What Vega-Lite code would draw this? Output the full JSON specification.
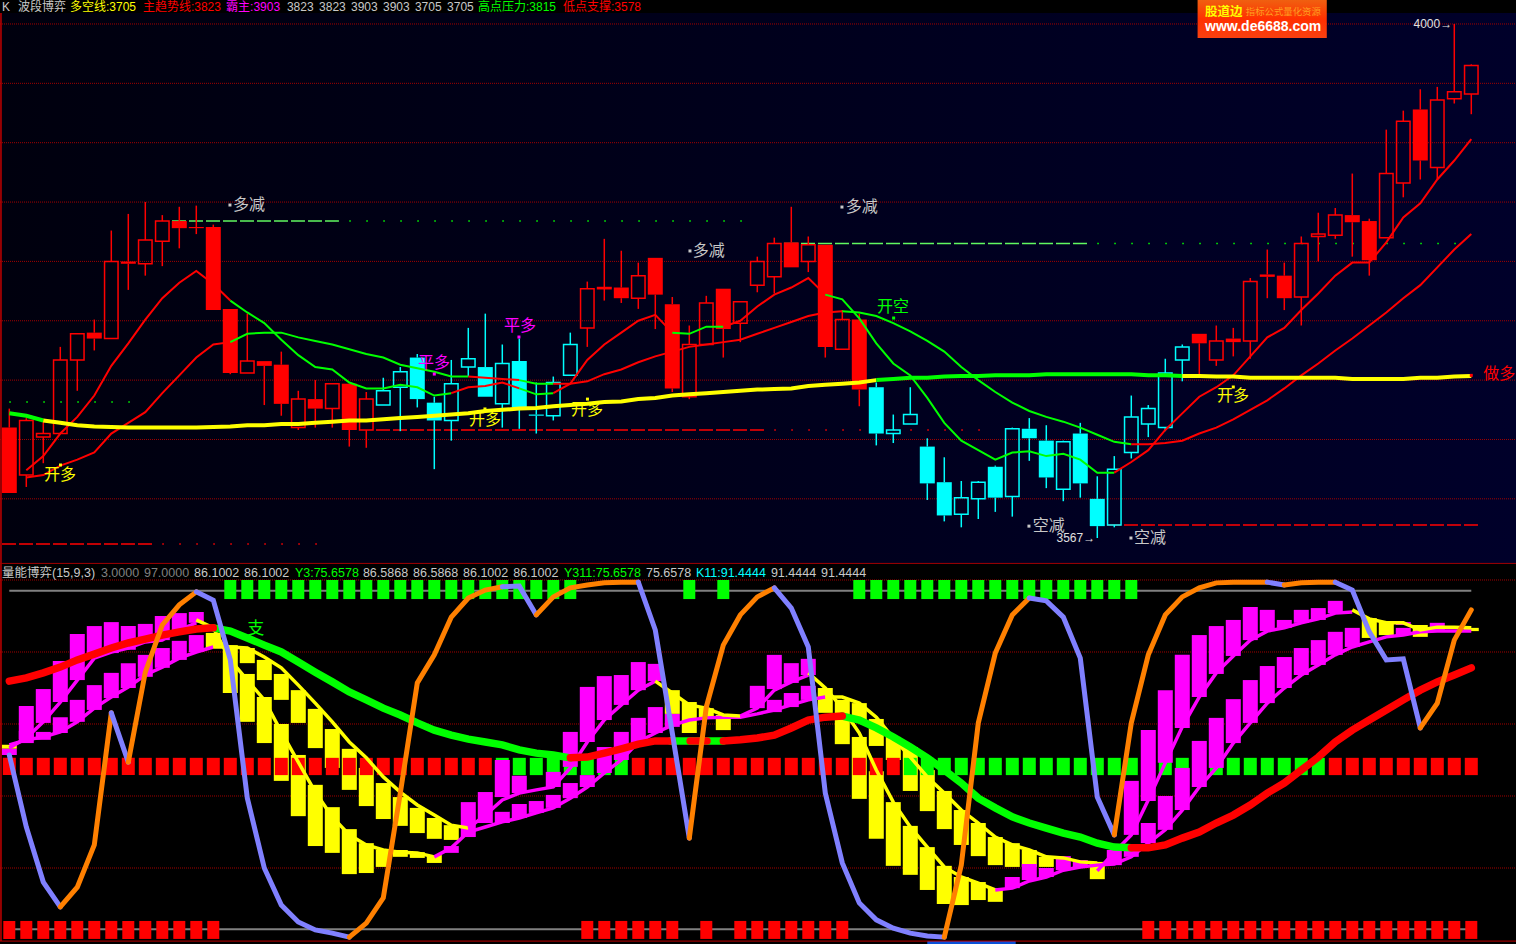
{"$schema":"https://vega.github.io/schema/vega-lite/v6.json","background":"#000000","padding":0,"spacing":0,"bounds":"flush","config":{"view":{"stroke":null,"clip":true},"mark":{"clip":true},"axis":{"disable":true},"legend":{"disable":true},"concat":{"spacing":0},"scale":{"continuousPadding":0}},
"datasets":{
"candles":[{"i":0,"h":3676,"t":3660,"b":3605,"l":3605,"c":"r","f":1},{"i":1,"h":3668,"t":3666,"b":3620,"l":3610,"c":"r","f":0},{"i":2,"h":3666,"t":3655,"b":3652,"l":3630,"c":"r","f":0},{"i":3,"h":3728,"t":3717,"b":3655,"l":3655,"c":"r","f":0},{"i":4,"h":3739,"t":3739,"b":3717,"l":3691,"c":"r","f":0},{"i":5,"h":3751,"t":3740,"b":3735,"l":3725,"c":"r","f":1},{"i":6,"h":3826,"t":3800,"b":3735,"l":3735,"c":"r","f":0},{"i":7,"h":3840,"t":3800,"b":3798,"l":3776,"c":"r","f":1},{"i":8,"h":3850,"t":3818,"b":3798,"l":3788,"c":"r","f":0},{"i":9,"h":3839,"t":3834,"b":3817,"l":3796,"c":"r","f":0},{"i":10,"h":3846,"t":3834,"b":3828,"l":3811,"c":"r","f":1},{"i":11,"h":3847,"t":3829,"b":3828,"l":3823,"c":"r","f":1},{"i":12,"h":3831,"t":3829,"b":3759,"l":3759,"c":"r","f":1},{"i":13,"h":3760,"t":3760,"b":3706,"l":3705,"c":"r","f":1},{"i":14,"h":3756,"t":3716,"b":3706,"l":3706,"c":"r","f":0},{"i":15,"h":3716,"t":3716,"b":3712,"l":3679,"c":"r","f":1},{"i":16,"h":3724,"t":3713,"b":3680,"l":3670,"c":"r","f":1},{"i":17,"h":3691,"t":3684,"b":3660,"l":3658,"c":"r","f":0},{"i":18,"h":3700,"t":3684,"b":3676,"l":3660,"c":"r","f":1},{"i":19,"h":3697,"t":3697,"b":3676,"l":3660,"c":"r","f":0},{"i":20,"h":3697,"t":3697,"b":3658,"l":3644,"c":"r","f":1},{"i":21,"h":3690,"t":3684,"b":3658,"l":3643,"c":"r","f":0},{"i":22,"h":3702,"t":3691,"b":3679,"l":3679,"c":"c","f":0},{"i":23,"h":3711,"t":3707,"b":3694,"l":3657,"c":"c","f":0},{"i":24,"h":3722,"t":3719,"b":3684,"l":3677,"c":"c","f":1},{"i":25,"h":3686,"t":3681,"b":3666,"l":3625,"c":"c","f":1},{"i":26,"h":3717,"t":3697,"b":3666,"l":3649,"c":"c","f":0},{"i":27,"h":3744,"t":3718,"b":3711,"l":3703,"c":"c","f":0},{"i":28,"h":3756,"t":3711,"b":3686,"l":3686,"c":"c","f":1},{"i":29,"h":3730,"t":3714,"b":3680,"l":3660,"c":"c","f":0},{"i":30,"h":3735,"t":3716,"b":3677,"l":3659,"c":"c","f":1},{"i":31,"h":3698,"t":3671,"b":3670,"l":3655,"c":"c","f":1},{"i":32,"h":3703,"t":3698,"b":3670,"l":3666,"c":"c","f":0},{"i":33,"h":3740,"t":3730,"b":3704,"l":3704,"c":"c","f":0},{"i":34,"h":3783,"t":3777,"b":3744,"l":3728,"c":"r","f":0},{"i":35,"h":3819,"t":3778,"b":3777,"l":3767,"c":"r","f":0},{"i":36,"h":3809,"t":3778,"b":3769,"l":3765,"c":"r","f":1},{"i":37,"h":3799,"t":3788,"b":3769,"l":3760,"c":"r","f":0},{"i":38,"h":3803,"t":3803,"b":3772,"l":3743,"c":"r","f":1},{"i":39,"h":3770,"t":3764,"b":3693,"l":3690,"c":"r","f":1},{"i":40,"h":3746,"t":3730,"b":3686,"l":3684,"c":"r","f":0},{"i":41,"h":3771,"t":3765,"b":3730,"l":3730,"c":"r","f":0},{"i":42,"h":3777,"t":3777,"b":3743,"l":3719,"c":"r","f":1},{"i":43,"h":3766,"t":3766,"b":3748,"l":3732,"c":"r","f":0},{"i":44,"h":3804,"t":3800,"b":3780,"l":3774,"c":"r","f":0},{"i":45,"h":3820,"t":3815,"b":3787,"l":3773,"c":"r","f":0},{"i":46,"h":3846,"t":3816,"b":3795,"l":3795,"c":"r","f":1},{"i":47,"h":3821,"t":3814,"b":3800,"l":3791,"c":"r","f":0},{"i":48,"h":3814,"t":3814,"b":3728,"l":3719,"c":"r","f":1},{"i":49,"h":3759,"t":3751,"b":3726,"l":3726,"c":"r","f":0},{"i":50,"h":3756,"t":3751,"b":3692,"l":3678,"c":"r","f":1},{"i":51,"h":3698,"t":3694,"b":3655,"l":3645,"c":"c","f":1},{"i":52,"h":3671,"t":3658,"b":3655,"l":3647,"c":"c","f":0},{"i":53,"h":3694,"t":3671,"b":3663,"l":3663,"c":"c","f":0},{"i":54,"h":3651,"t":3644,"b":3613,"l":3599,"c":"c","f":1},{"i":55,"h":3635,"t":3614,"b":3586,"l":3581,"c":"c","f":1},{"i":56,"h":3615,"t":3601,"b":3587,"l":3576,"c":"c","f":0},{"i":57,"h":3615,"t":3614,"b":3600,"l":3583,"c":"c","f":0},{"i":58,"h":3628,"t":3627,"b":3601,"l":3589,"c":"c","f":1},{"i":59,"h":3660,"t":3659,"b":3602,"l":3585,"c":"c","f":0},{"i":60,"h":3668,"t":3659,"b":3651,"l":3632,"c":"c","f":1},{"i":61,"h":3662,"t":3649,"b":3618,"l":3609,"c":"c","f":1},{"i":62,"h":3649,"t":3648,"b":3608,"l":3598,"c":"c","f":0},{"i":63,"h":3664,"t":3655,"b":3613,"l":3601,"c":"c","f":1},{"i":64,"h":3619,"t":3600,"b":3577,"l":3567,"c":"c","f":1},{"i":65,"h":3636,"t":3625,"b":3578,"l":3576,"c":"c","f":0},{"i":66,"h":3687,"t":3669,"b":3639,"l":3634,"c":"c","f":0},{"i":67,"h":3679,"t":3676,"b":3663,"l":3652,"c":"c","f":0},{"i":68,"h":3718,"t":3706,"b":3660,"l":3657,"c":"c","f":0},{"i":69,"h":3730,"t":3728,"b":3717,"l":3699,"c":"c","f":0},{"i":70,"h":3739,"t":3739,"b":3731,"l":3703,"c":"r","f":1},{"i":71,"h":3746,"t":3733,"b":3717,"l":3712,"c":"r","f":0},{"i":72,"h":3744,"t":3735,"b":3732,"l":3720,"c":"r","f":1},{"i":73,"h":3786,"t":3783,"b":3733,"l":3718,"c":"r","f":0},{"i":74,"h":3810,"t":3789,"b":3787,"l":3769,"c":"r","f":1},{"i":75,"h":3799,"t":3788,"b":3769,"l":3759,"c":"r","f":1},{"i":76,"h":3821,"t":3815,"b":3770,"l":3746,"c":"r","f":0},{"i":77,"h":3841,"t":3823,"b":3821,"l":3800,"c":"r","f":0},{"i":78,"h":3845,"t":3839,"b":3822,"l":3819,"c":"r","f":0},{"i":79,"h":3874,"t":3839,"b":3833,"l":3804,"c":"r","f":1},{"i":80,"h":3836,"t":3834,"b":3801,"l":3788,"c":"r","f":1},{"i":81,"h":3911,"t":3874,"b":3820,"l":3820,"c":"r","f":0},{"i":82,"h":3927,"t":3918,"b":3866,"l":3854,"c":"r","f":0},{"i":83,"h":3945,"t":3928,"b":3885,"l":3869,"c":"r","f":1},{"i":84,"h":3947,"t":3936,"b":3879,"l":3869,"c":"r","f":0},{"i":85,"h":4000,"t":3943,"b":3937,"l":3933,"c":"r","f":0},{"i":86,"h":3966,"t":3965,"b":3941,"l":3924,"c":"r","f":0}],
"thin":[{"i":1,"p":3624,"s":1,"c":"r"},{"i":2,"p":3636,"s":1,"c":"r"},{"i":3,"p":3655,"s":1,"c":"r"},{"i":4,"p":3669,"s":1,"c":"r"},{"i":5,"p":3687,"s":1,"c":"r"},{"i":6,"p":3712,"s":1,"c":"r"},{"i":7,"p":3731,"s":1,"c":"r"},{"i":8,"p":3751,"s":1,"c":"r"},{"i":9,"p":3769,"s":1,"c":"r"},{"i":10,"p":3782,"s":1,"c":"r"},{"i":11,"p":3792,"s":1,"c":"r"},{"i":12,"p":3781,"s":1,"c":"r"},{"i":13,"p":3767,"s":1,"c":"r"},
{"i":13,"p":3767,"s":2,"c":"g"},{"i":14,"p":3757,"s":2,"c":"g"},{"i":15,"p":3748,"s":2,"c":"g"},{"i":16,"p":3734,"s":2,"c":"g"},{"i":17,"p":3721,"s":2,"c":"g"},{"i":18,"p":3711,"s":2,"c":"g"},{"i":19,"p":3709,"s":2,"c":"g"},{"i":20,"p":3698,"s":2,"c":"g"},{"i":21,"p":3693,"s":2,"c":"g"},{"i":22,"p":3693,"s":2,"c":"g"},{"i":23,"p":3696,"s":2,"c":"g"},{"i":24,"p":3694,"s":2,"c":"g"},{"i":25,"p":3687,"s":2,"c":"g"},{"i":26,"p":3689,"s":2,"c":"g"},
{"i":26,"p":3689,"s":3,"c":"r"},{"i":27,"p":3694,"s":3,"c":"r"},{"i":28,"p":3695,"s":3,"c":"r"},{"i":29,"p":3698,"s":3,"c":"r"},{"i":30,"p":3693,"s":3,"c":"r"},
{"i":30,"p":3693,"s":4,"c":"g"},{"i":31,"p":3688,"s":4,"c":"g"},{"i":32,"p":3689,"s":4,"c":"g"},
{"i":32,"p":3689,"s":5,"c":"r"},{"i":33,"p":3697,"s":5,"c":"r"},{"i":34,"p":3717,"s":5,"c":"r"},{"i":35,"p":3730,"s":5,"c":"r"},{"i":36,"p":3740,"s":5,"c":"r"},{"i":37,"p":3750,"s":5,"c":"r"},{"i":38,"p":3755,"s":5,"c":"r"},{"i":39,"p":3740,"s":5,"c":"r"},
{"i":39,"p":3740,"s":6,"c":"g"},{"i":40,"p":3739,"s":6,"c":"g"},{"i":41,"p":3745,"s":6,"c":"g"},{"i":42,"p":3745,"s":6,"c":"g"},
{"i":42,"p":3745,"s":7,"c":"r"},{"i":43,"p":3750,"s":7,"c":"r"},{"i":44,"p":3762,"s":7,"c":"r"},{"i":45,"p":3772,"s":7,"c":"r"},{"i":46,"p":3778,"s":7,"c":"r"},{"i":47,"p":3786,"s":7,"c":"r"},{"i":48,"p":3772,"s":7,"c":"r"},
{"i":48,"p":3772,"s":8,"c":"g"},{"i":49,"p":3768,"s":8,"c":"g"},{"i":50,"p":3752,"s":8,"c":"g"},{"i":51,"p":3731,"s":8,"c":"g"},{"i":52,"p":3714,"s":8,"c":"g"},{"i":53,"p":3704,"s":8,"c":"g"},{"i":54,"p":3685,"s":8,"c":"g"},{"i":55,"p":3664,"s":8,"c":"g"},{"i":56,"p":3649,"s":8,"c":"g"},{"i":57,"p":3641,"s":8,"c":"g"},{"i":58,"p":3633,"s":8,"c":"g"},{"i":59,"p":3639,"s":8,"c":"g"},{"i":60,"p":3640,"s":8,"c":"g"},{"i":61,"p":3636,"s":8,"c":"g"},{"i":62,"p":3638,"s":8,"c":"g"},{"i":63,"p":3633,"s":8,"c":"g"},{"i":64,"p":3622,"s":8,"c":"g"},{"i":65,"p":3622,"s":8,"c":"g"},
{"i":65,"p":3622,"s":9,"c":"r"},{"i":66,"p":3631,"s":9,"c":"r"},{"i":67,"p":3641,"s":9,"c":"r"},{"i":68,"p":3658,"s":9,"c":"r"},{"i":69,"p":3672,"s":9,"c":"r"},{"i":70,"p":3686,"s":9,"c":"r"},{"i":71,"p":3694,"s":9,"c":"r"},{"i":72,"p":3704,"s":9,"c":"r"},{"i":73,"p":3720,"s":9,"c":"r"},{"i":74,"p":3736,"s":9,"c":"r"},{"i":75,"p":3744,"s":9,"c":"r"},{"i":76,"p":3759,"s":9,"c":"r"},{"i":77,"p":3773,"s":9,"c":"r"},{"i":78,"p":3788,"s":9,"c":"r"},{"i":79,"p":3799,"s":9,"c":"r"},{"i":80,"p":3799,"s":9,"c":"r"},{"i":81,"p":3816,"s":9,"c":"r"},{"i":82,"p":3837,"s":9,"c":"r"},{"i":83,"p":3849,"s":9,"c":"r"},{"i":84,"p":3869,"s":9,"c":"r"},{"i":85,"p":3885,"s":9,"c":"r"},{"i":86,"p":3903,"s":9,"c":"r"},
{"i":1,"p":3618,"s":11,"c":"r"},{"i":2,"p":3620,"s":11,"c":"r"},{"i":3,"p":3628,"s":11,"c":"r"},{"i":4,"p":3633,"s":11,"c":"r"},{"i":5,"p":3639,"s":11,"c":"r"},{"i":6,"p":3655,"s":11,"c":"r"},{"i":7,"p":3664,"s":11,"c":"r"},{"i":8,"p":3673,"s":11,"c":"r"},{"i":9,"p":3689,"s":11,"c":"r"},{"i":10,"p":3704,"s":11,"c":"r"},{"i":11,"p":3719,"s":11,"c":"r"},{"i":12,"p":3730,"s":11,"c":"r"},{"i":13,"p":3732,"s":11,"c":"r"},
{"i":13,"p":3732,"s":12,"c":"g"},{"i":14,"p":3739,"s":12,"c":"g"},{"i":15,"p":3740,"s":12,"c":"g"},{"i":16,"p":3740,"s":12,"c":"g"},{"i":17,"p":3736,"s":12,"c":"g"},{"i":18,"p":3733,"s":12,"c":"g"},{"i":19,"p":3730,"s":12,"c":"g"},{"i":20,"p":3726,"s":12,"c":"g"},{"i":21,"p":3722,"s":12,"c":"g"},{"i":22,"p":3719,"s":12,"c":"g"},{"i":23,"p":3713,"s":12,"c":"g"},{"i":24,"p":3710,"s":12,"c":"g"},{"i":25,"p":3707,"s":12,"c":"g"},{"i":26,"p":3703,"s":12,"c":"g"},{"i":27,"p":3703,"s":12,"c":"g"},
{"i":27,"p":3703,"s":13,"c":"r"},{"i":28,"p":3702,"s":13,"c":"r"},{"i":29,"p":3701,"s":13,"c":"r"},{"i":30,"p":3700,"s":13,"c":"r"},
{"i":30,"p":3700,"s":14,"c":"g"},{"i":31,"p":3697,"s":14,"c":"g"},{"i":32,"p":3697,"s":14,"c":"g"},
{"i":32,"p":3697,"s":15,"c":"r"},{"i":33,"p":3697,"s":15,"c":"r"},{"i":34,"p":3699,"s":15,"c":"r"},{"i":35,"p":3705,"s":15,"c":"r"},{"i":36,"p":3709,"s":15,"c":"r"},{"i":37,"p":3715,"s":15,"c":"r"},{"i":38,"p":3720,"s":15,"c":"r"},{"i":39,"p":3724,"s":15,"c":"r"},{"i":40,"p":3728,"s":15,"c":"r"},{"i":41,"p":3730,"s":15,"c":"r"},{"i":42,"p":3732,"s":15,"c":"r"},{"i":43,"p":3734,"s":15,"c":"r"},{"i":44,"p":3739,"s":15,"c":"r"},{"i":45,"p":3744,"s":15,"c":"r"},{"i":46,"p":3749,"s":15,"c":"r"},{"i":47,"p":3754,"s":15,"c":"r"},{"i":48,"p":3757,"s":15,"c":"r"},{"i":49,"p":3758,"s":15,"c":"r"},
{"i":49,"p":3758,"s":16,"c":"g"},{"i":50,"p":3757,"s":16,"c":"g"},{"i":51,"p":3754,"s":16,"c":"g"},{"i":52,"p":3748,"s":16,"c":"g"},{"i":53,"p":3741,"s":16,"c":"g"},{"i":54,"p":3733,"s":16,"c":"g"},{"i":55,"p":3724,"s":16,"c":"g"},{"i":56,"p":3711,"s":16,"c":"g"},{"i":57,"p":3700,"s":16,"c":"g"},{"i":58,"p":3690,"s":16,"c":"g"},{"i":59,"p":3681,"s":16,"c":"g"},{"i":60,"p":3674,"s":16,"c":"g"},{"i":61,"p":3669,"s":16,"c":"g"},{"i":62,"p":3665,"s":16,"c":"g"},{"i":63,"p":3660,"s":16,"c":"g"},{"i":64,"p":3654,"s":16,"c":"g"},{"i":65,"p":3648,"s":16,"c":"g"},{"i":66,"p":3646,"s":16,"c":"g"},
{"i":66,"p":3646,"s":17,"c":"r"},{"i":67,"p":3646,"s":17,"c":"r"},{"i":68,"p":3647,"s":17,"c":"r"},{"i":69,"p":3649,"s":17,"c":"r"},{"i":70,"p":3655,"s":17,"c":"r"},{"i":71,"p":3660,"s":17,"c":"r"},{"i":72,"p":3667,"s":17,"c":"r"},{"i":73,"p":3675,"s":17,"c":"r"},{"i":74,"p":3683,"s":17,"c":"r"},{"i":75,"p":3693,"s":17,"c":"r"},{"i":76,"p":3704,"s":17,"c":"r"},{"i":77,"p":3714,"s":17,"c":"r"},{"i":78,"p":3725,"s":17,"c":"r"},{"i":79,"p":3735,"s":17,"c":"r"},{"i":80,"p":3746,"s":17,"c":"r"},{"i":81,"p":3757,"s":17,"c":"r"},{"i":82,"p":3769,"s":17,"c":"r"},{"i":83,"p":3780,"s":17,"c":"r"},{"i":84,"p":3795,"s":17,"c":"r"},{"i":85,"p":3810,"s":17,"c":"r"},{"i":86,"p":3823,"s":17,"c":"r"}],
"trend":[{"i":0,"p":3672,"s":1,"c":"g"},{"i":1,"p":3670,"s":1,"c":"g"},{"i":2,"p":3666,"s":1,"c":"g"},
{"i":2,"p":3666,"s":2,"c":"y"},{"i":3,"p":3664,"s":2,"c":"y"},{"i":4,"p":3662,"s":2,"c":"y"},{"i":5,"p":3661,"s":2,"c":"y"},{"i":6,"p":3660.5,"s":2,"c":"y"},{"i":7,"p":3660,"s":2,"c":"y"},{"i":8,"p":3660,"s":2,"c":"y"},{"i":9,"p":3660,"s":2,"c":"y"},{"i":10,"p":3660,"s":2,"c":"y"},{"i":11,"p":3660,"s":2,"c":"y"},{"i":12,"p":3660.5,"s":2,"c":"y"},{"i":13,"p":3661,"s":2,"c":"y"},{"i":14,"p":3662,"s":2,"c":"y"},{"i":15,"p":3662,"s":2,"c":"y"},{"i":16,"p":3663,"s":2,"c":"y"},{"i":17,"p":3663,"s":2,"c":"y"},{"i":18,"p":3664,"s":2,"c":"y"},{"i":19,"p":3665,"s":2,"c":"y"},{"i":20,"p":3666,"s":2,"c":"y"},{"i":21,"p":3666,"s":2,"c":"y"},{"i":22,"p":3667,"s":2,"c":"y"},{"i":23,"p":3668,"s":2,"c":"y"},{"i":24,"p":3669,"s":2,"c":"y"},{"i":25,"p":3670,"s":2,"c":"y"},{"i":26,"p":3671,"s":2,"c":"y"},{"i":27,"p":3672,"s":2,"c":"y"},{"i":28,"p":3674,"s":2,"c":"y"},{"i":29,"p":3675,"s":2,"c":"y"},{"i":30,"p":3676,"s":2,"c":"y"},{"i":31,"p":3676.5,"s":2,"c":"y"},{"i":32,"p":3678,"s":2,"c":"y"},{"i":33,"p":3679,"s":2,"c":"y"},{"i":34,"p":3680,"s":2,"c":"y"},{"i":35,"p":3681.6,"s":2,"c":"y"},{"i":36,"p":3682,"s":2,"c":"y"},{"i":37,"p":3684,"s":2,"c":"y"},{"i":38,"p":3685,"s":2,"c":"y"},{"i":39,"p":3687,"s":2,"c":"y"},{"i":40,"p":3688,"s":2,"c":"y"},{"i":41,"p":3689,"s":2,"c":"y"},{"i":42,"p":3690,"s":2,"c":"y"},{"i":43,"p":3691,"s":2,"c":"y"},{"i":44,"p":3692,"s":2,"c":"y"},{"i":45,"p":3692.5,"s":2,"c":"y"},{"i":46,"p":3693,"s":2,"c":"y"},{"i":47,"p":3695,"s":2,"c":"y"},{"i":48,"p":3696,"s":2,"c":"y"},{"i":49,"p":3697,"s":2,"c":"y"},{"i":50,"p":3698,"s":2,"c":"y"},{"i":51,"p":3700,"s":2,"c":"y"},
{"i":51,"p":3700,"s":3,"c":"g"},{"i":52,"p":3701,"s":3,"c":"g"},{"i":53,"p":3702,"s":3,"c":"g"},{"i":54,"p":3702,"s":3,"c":"g"},{"i":55,"p":3703,"s":3,"c":"g"},{"i":56,"p":3703.5,"s":3,"c":"g"},{"i":57,"p":3703.5,"s":3,"c":"g"},{"i":58,"p":3704,"s":3,"c":"g"},{"i":59,"p":3704,"s":3,"c":"g"},{"i":60,"p":3704,"s":3,"c":"g"},{"i":61,"p":3705,"s":3,"c":"g"},{"i":62,"p":3705,"s":3,"c":"g"},{"i":63,"p":3705,"s":3,"c":"g"},{"i":64,"p":3705,"s":3,"c":"g"},{"i":65,"p":3705,"s":3,"c":"g"},{"i":66,"p":3705,"s":3,"c":"g"},{"i":67,"p":3704,"s":3,"c":"g"},{"i":68,"p":3704,"s":3,"c":"g"},{"i":69,"p":3703.5,"s":3,"c":"g"},
{"i":69,"p":3703.5,"s":4,"c":"y"},{"i":70,"p":3703.5,"s":4,"c":"y"},{"i":71,"p":3703,"s":4,"c":"y"},{"i":72,"p":3703,"s":4,"c":"y"},{"i":73,"p":3702,"s":4,"c":"y"},{"i":74,"p":3702,"s":4,"c":"y"},{"i":75,"p":3702,"s":4,"c":"y"},{"i":76,"p":3702,"s":4,"c":"y"},{"i":77,"p":3702,"s":4,"c":"y"},{"i":78,"p":3702,"s":4,"c":"y"},{"i":79,"p":3701,"s":4,"c":"y"},{"i":80,"p":3701,"s":4,"c":"y"},{"i":81,"p":3701,"s":4,"c":"y"},{"i":82,"p":3701,"s":4,"c":"y"},{"i":83,"p":3702,"s":4,"c":"y"},{"i":84,"p":3702,"s":4,"c":"y"},{"i":85,"p":3703,"s":4,"c":"y"},{"i":86,"p":3703.5,"s":4,"c":"y"}],
"dash":[{"i":9.57,"p":3834,"s":1,"c":"l"},{"i":19.39,"p":3834,"s":1,"c":"l"},{"i":45.57,"p":3815,"s":2,"c":"l"},{"i":63.45,"p":3815,"s":2,"c":"l"},{"i":-0.43,"p":3562,"s":3,"c":"r"},{"i":8.45,"p":3562,"s":3,"c":"r"},{"i":21.57,"p":3658,"s":4,"c":"r"},{"i":44.45,"p":3658,"s":4,"c":"r"},{"i":64.57,"p":3578,"s":5,"c":"r"},{"i":86.45,"p":3578,"s":5,"c":"r"}],
"dotted":[{"i":20,"p":3834,"s":1,"c":"g"},{"i":44,"p":3834,"s":1,"c":"g"},{"i":64,"p":3815,"s":2,"c":"g"},{"i":86,"p":3815,"s":2,"c":"g"},{"i":0,"p":3681.6,"s":3,"c":"g"},{"i":8,"p":3681.6,"s":3,"c":"g"},{"i":9,"p":3562,"s":4,"c":"r"},{"i":19,"p":3562,"s":4,"c":"r"},{"i":45,"p":3658,"s":5,"c":"r"},{"i":58,"p":3658,"s":5,"c":"r"}],
"grid1":[{"i":-0.547,"i2":88.63,"p":4000},{"i":-0.547,"i2":88.63,"p":3950},{"i":-0.547,"i2":88.63,"p":3900},{"i":-0.547,"i2":88.63,"p":3850},{"i":-0.547,"i2":88.63,"p":3800},{"i":-0.547,"i2":88.63,"p":3750},{"i":-0.547,"i2":88.63,"p":3700},{"i":-0.547,"i2":88.63,"p":3650},{"i":-0.547,"i2":88.63,"p":3600}],
"grid2":[{"i":-0.547,"i2":88.63,"v":100},{"i":-0.547,"i2":88.63,"v":80},{"i":-0.547,"i2":88.63,"v":60},{"i":-0.547,"i2":88.63,"v":40},{"i":-0.547,"i2":88.63,"v":20}],
"notes":[{"i":13.16,"p":3847.5,"t":"多减","c":"w"},{"i":40.2,"p":3808.8,"t":"多减","c":"w"},{"i":49.2,"p":3845.8,"t":"多减","c":"w"},{"i":60.2,"p":3577,"t":"空减","c":"w"},{"i":66.16,"p":3567,"t":"空减","c":"w"},{"i":2.04,"p":3620,"t":"开多","c":"y"},{"i":27.04,"p":3666.4,"t":"开多","c":"y"},{"i":33.04,"p":3674.8,"t":"开多","c":"y"},{"i":71.04,"p":3686.6,"t":"开多","c":"y"},{"i":24.04,"p":3714.4,"t":"平多","c":"m"},{"i":29.1,"p":3745.6,"t":"平多","c":"m"},{"i":51.04,"p":3761.6,"t":"开空","c":"g"},{"i":86.7,"p":3705.1,"t":"做多","c":"r"}],
"dots":[{"i":12.98,"p":3847.5,"c":"w"},{"i":40.04,"p":3808.8,"c":"w"},{"i":48.98,"p":3845.8,"c":"w"},{"i":59.98,"p":3577,"c":"w"},{"i":65.98,"p":3567,"c":"w"},{"i":3.01,"p":3628.5,"c":"y"},{"i":27.98,"p":3675.7,"c":"y"},{"i":34.01,"p":3684,"c":"y"},{"i":72,"p":3694.2,"c":"y"},{"i":25,"p":3705.1,"c":"m"},{"i":29.98,"p":3736.3,"c":"m"},{"i":52.02,"p":3752.3,"c":"g"},{"i":86,"p":3704,"c":"r"}],
"marks":[{"i":82.6,"p":4000,"t":"4000→"},{"i":61.6,"p":3567,"t":"3567→"}],
"head1":[{"i":-0.43,"t":"K","c":"w","p":4014.7},{"i":0.51,"t":"波段博弈","c":"w","p":4014.7},{"i":3.57,"t":"多空线:3705","c":"y","p":4014.7},{"i":7.86,"t":"主趋势线:3823","c":"r","p":4014.7},{"i":12.75,"t":"霸主:3903","c":"m","p":4014.7},{"i":16.33,"t":"3823","c":"w","p":4014.7},{"i":18.22,"t":"3823","c":"w","p":4014.7},{"i":20.1,"t":"3903","c":"w","p":4014.7},{"i":21.98,"t":"3903","c":"w","p":4014.7},{"i":23.86,"t":"3705","c":"w","p":4014.7},{"i":25.75,"t":"3705","c":"w","p":4014.7},{"i":27.57,"t":"高点压力:3815","c":"g","p":4014.7},{"i":32.57,"t":"低点支撑:3578","c":"r","p":4014.7}],
"head2":[{"i":-0.43,"t":"量能博弈(15,9,3)","c":"w","v":101.9},{"i":5.39,"t":"3.0000","c":"d","v":101.9},{"i":7.92,"t":"97.0000","c":"d","v":101.9},{"i":10.87,"t":"86.1002","c":"w","v":101.9},{"i":13.81,"t":"86.1002","c":"w","v":101.9},{"i":16.8,"t":"Y3:75.6578","c":"g","v":101.9},{"i":20.8,"t":"86.5868","c":"w","v":101.9},{"i":23.75,"t":"86.5868","c":"w","v":101.9},{"i":26.69,"t":"86.1002","c":"w","v":101.9},{"i":29.64,"t":"86.1002","c":"w","v":101.9},{"i":32.63,"t":"Y311:75.6578","c":"g","v":101.9},{"i":37.45,"t":"75.6578","c":"w","v":101.9},{"i":40.39,"t":"K11:91.4444","c":"c","v":101.9},{"i":44.8,"t":"91.4444","c":"w","v":101.9},{"i":47.75,"t":"91.4444","c":"w","v":101.9}],
"kbars":[{"i":0,"a":53.1,"b":51.4,"c":"m"},{"i":1,"a":65,"b":55.8,"c":"m"},{"i":1,"a":58.1,"b":54.7,"c":"m"},{"i":2,"a":69.7,"b":60.3,"c":"m"},{"i":2,"a":57.8,"b":55.6,"c":"m"},{"i":3,"a":77.5,"b":66.1,"c":"m"},{"i":3,"a":61.9,"b":57.5,"c":"m"},{"i":4,"a":85,"b":72.2,"c":"m"},{"i":4,"a":66.7,"b":60.6,"c":"m"},{"i":5,"a":87.2,"b":79.7,"c":"m"},{"i":5,"a":70.8,"b":63.9,"c":"m"},{"i":6,"a":88.3,"b":79.7,"c":"m"},{"i":6,"a":74.2,"b":67.2,"c":"m"},{"i":7,"a":87.2,"b":80.6,"c":"m"},{"i":7,"a":76.9,"b":70,"c":"m"},{"i":8,"a":87.8,"b":82.5,"c":"m"},{"i":8,"a":79.2,"b":73.1,"c":"m"},{"i":9,"a":90,"b":83.3,"c":"m"},{"i":9,"a":81.1,"b":75.6,"c":"m"},{"i":10,"a":90.8,"b":86.1,"c":"m"},{"i":10,"a":83.1,"b":77.8,"c":"m"},{"i":11,"a":91.1,"b":88.1,"c":"m"},{"i":11,"a":84.7,"b":80,"c":"m"},{"i":26,"a":26.1,"b":24.2,"c":"m"},{"i":27,"a":38.3,"b":28.6,"c":"m"},{"i":28,"a":41.1,"b":32.5,"c":"m"},{"i":29,"a":50,"b":39.7,"c":"m"},{"i":29,"a":35.6,"b":32.5,"c":"m"},{"i":30,"a":45.6,"b":40.8,"c":"m"},{"i":30,"a":37.8,"b":33.9,"c":"m"},{"i":31,"a":38.6,"b":35.3,"c":"m"},{"i":32,"a":46.7,"b":42.5,"c":"m"},{"i":32,"a":40.3,"b":36.7,"c":"m"},{"i":33,"a":57.8,"b":48.1,"c":"m"},{"i":33,"a":43.6,"b":39.4,"c":"m"},{"i":34,"a":70.3,"b":55,"c":"m"},{"i":34,"a":45.8,"b":42.5,"c":"m"},{"i":35,"a":73.3,"b":61.1,"c":"m"},{"i":35,"a":53.6,"b":46.4,"c":"m"},{"i":36,"a":73.6,"b":65.3,"c":"m"},{"i":36,"a":57.8,"b":50,"c":"m"},{"i":37,"a":77.2,"b":69.4,"c":"m"},{"i":37,"a":61.7,"b":54.7,"c":"m"},{"i":38,"a":76.7,"b":71.9,"c":"m"},{"i":38,"a":64.7,"b":57.5,"c":"m"},{"i":39,"a":62.8,"b":59.2,"c":"m"},{"i":44,"a":70.6,"b":64.4,"c":"m"},{"i":45,"a":79.2,"b":69.7,"c":"m"},{"i":45,"a":66.7,"b":63.3,"c":"m"},{"i":46,"a":76.9,"b":71.4,"c":"m"},{"i":46,"a":68.6,"b":64.7,"c":"m"},{"i":47,"a":78.1,"b":73.6,"c":"m"},{"i":47,"a":70.6,"b":66.7,"c":"m"},{"i":59,"a":17.5,"b":14.4,"c":"m"},{"i":60,"a":21.1,"b":16.7,"c":"m"},{"i":61,"a":20,"b":17.5,"c":"m"},{"i":62,"a":23.3,"b":19.4,"c":"m"},{"i":63,"a":22.2,"b":20,"c":"m"},{"i":65,"a":25,"b":20.8,"c":"m"},{"i":66,"a":44.2,"b":29.2,"c":"m"},{"i":66,"a":26.4,"b":23.1,"c":"m"},{"i":67,"a":58.3,"b":38.6,"c":"m"},{"i":67,"a":32.5,"b":26.9,"c":"m"},{"i":68,"a":69.4,"b":49.2,"c":"m"},{"i":68,"a":40,"b":30.6,"c":"m"},{"i":69,"a":79.2,"b":58.9,"c":"m"},{"i":69,"a":47.8,"b":36.1,"c":"m"},{"i":70,"a":84.7,"b":67.5,"c":"m"},{"i":70,"a":55.3,"b":42.5,"c":"m"},{"i":71,"a":87.2,"b":73.9,"c":"m"},{"i":71,"a":61.7,"b":47.8,"c":"m"},{"i":72,"a":88.9,"b":78.9,"c":"m"},{"i":72,"a":66.9,"b":54.7,"c":"m"},{"i":73,"a":92.5,"b":83.3,"c":"m"},{"i":73,"a":72.2,"b":60.3,"c":"m"},{"i":74,"a":91.7,"b":85.8,"c":"m"},{"i":74,"a":76.1,"b":65.8,"c":"m"},{"i":75,"a":88.9,"b":86.7,"c":"m"},{"i":75,"a":78.6,"b":70,"c":"m"},{"i":76,"a":91.7,"b":88.1,"c":"m"},{"i":76,"a":81.1,"b":73.6,"c":"m"},{"i":77,"a":92.2,"b":88.9,"c":"m"},{"i":77,"a":83.3,"b":76.4,"c":"m"},{"i":78,"a":94.2,"b":90.8,"c":"m"},{"i":78,"a":85.6,"b":79.2,"c":"m"},{"i":79,"a":86.7,"b":81.4,"c":"m"},{"i":82,"a":88.3,"b":87.5,"c":"m"},{"i":82,"a":86.7,"b":84.7,"c":"m"},{"i":84,"a":88.1,"b":86.1,"c":"m"}],
"ybars":[{"i":0,"a":54.2,"b":53.1},{"i":12,"a":85.3,"b":81.1},{"i":13,"a":81.9,"b":68.6},{"i":14,"a":81.1,"b":76.9},{"i":14,"a":73.9,"b":60.6},{"i":15,"a":77.8,"b":72.2},{"i":15,"a":67.5,"b":54.7},{"i":16,"a":73.9,"b":66.7},{"i":16,"a":60,"b":44.2},{"i":17,"a":69.4,"b":60.3},{"i":17,"a":51.4,"b":34.4},{"i":18,"a":64.2,"b":53.3},{"i":18,"a":43.1,"b":26.1},{"i":19,"a":58.6,"b":47.8},{"i":19,"a":36.9,"b":24.2},{"i":20,"a":53.1,"b":41.7},{"i":20,"a":30.8,"b":18.3},{"i":21,"a":47.8,"b":37.2},{"i":21,"a":26.9,"b":18.6},{"i":22,"a":43.6,"b":33.6},{"i":22,"a":25,"b":20.3},{"i":23,"a":39.7,"b":31.7},{"i":23,"a":25,"b":23.1},{"i":24,"a":36.7,"b":29.7},{"i":24,"a":24.4,"b":22.8},{"i":25,"a":33.9,"b":28.1},{"i":25,"a":23.6,"b":21.4},{"i":26,"a":31.9,"b":27.8},{"i":39,"a":69.4,"b":62.8},{"i":40,"a":66.1,"b":57.5},{"i":41,"a":64.4,"b":61.7},{"i":42,"a":62.5,"b":58.3},{"i":48,"a":70,"b":63.1},{"i":49,"a":66.7,"b":54.4},{"i":50,"a":65.8,"b":60.6},{"i":50,"a":56.4,"b":39.2},{"i":51,"a":61.4,"b":53.9},{"i":51,"a":46.9,"b":28.1},{"i":52,"a":56.4,"b":50},{"i":52,"a":38.3,"b":20.6},{"i":53,"a":53.6,"b":41.4},{"i":53,"a":31.7,"b":18.1},{"i":54,"a":47.2,"b":35.8},{"i":54,"a":25.8,"b":13.9},{"i":55,"a":41.4,"b":30.8},{"i":55,"a":20.6,"b":10},{"i":56,"a":36.1,"b":26.4},{"i":56,"a":17.5,"b":9.7},{"i":57,"a":32.5,"b":23.3},{"i":57,"a":16.1,"b":11.1},{"i":58,"a":28.6,"b":20.8},{"i":58,"a":14.4,"b":10.6},{"i":59,"a":26.9,"b":20.3},{"i":60,"a":25,"b":20.3},{"i":61,"a":23.1,"b":20.3},{"i":64,"a":21.7,"b":16.9},{"i":80,"a":89.4,"b":83.9},{"i":81,"a":88.1,"b":84.7},{"i":83,"a":87.5,"b":84.2},{"i":85,"a":87.2,"b":86.4},{"i":86,"a":86.7,"b":85.8}],
"topStrip":[{"i":13,"a":100,"b":94.7},{"i":14,"a":100,"b":94.7},{"i":15,"a":100,"b":94.7},{"i":16,"a":100,"b":94.7},{"i":17,"a":100,"b":94.7},{"i":18,"a":100,"b":94.7},{"i":19,"a":100,"b":94.7},{"i":20,"a":100,"b":94.7},{"i":21,"a":100,"b":94.7},{"i":22,"a":100,"b":94.7},{"i":23,"a":100,"b":94.7},{"i":24,"a":100,"b":94.7},{"i":25,"a":100,"b":94.7},{"i":26,"a":100,"b":94.7},{"i":27,"a":100,"b":94.7},{"i":28,"a":100,"b":94.7},{"i":29,"a":100,"b":94.7},{"i":30,"a":100,"b":94.7},{"i":31,"a":100,"b":94.7},{"i":32,"a":100,"b":94.7},{"i":33,"a":100,"b":94.7},{"i":40,"a":100,"b":94.7},{"i":42,"a":100,"b":94.7},{"i":50,"a":100,"b":94.7},{"i":51,"a":100,"b":94.7},{"i":52,"a":100,"b":94.7},{"i":53,"a":100,"b":94.7},{"i":54,"a":100,"b":94.7},{"i":55,"a":100,"b":94.7},{"i":56,"a":100,"b":94.7},{"i":57,"a":100,"b":94.7},{"i":58,"a":100,"b":94.7},{"i":59,"a":100,"b":94.7},{"i":60,"a":100,"b":94.7},{"i":61,"a":100,"b":94.7},{"i":62,"a":100,"b":94.7},{"i":63,"a":100,"b":94.7},{"i":64,"a":100,"b":94.7},{"i":65,"a":100,"b":94.7},{"i":66,"a":100,"b":94.7}],
"botStrip":[{"i":0,"a":5.3,"b":0.3},{"i":1,"a":5.3,"b":0.3},{"i":2,"a":5.3,"b":0.3},{"i":3,"a":5.3,"b":0.3},{"i":4,"a":5.3,"b":0.3},{"i":5,"a":5.3,"b":0.3},{"i":6,"a":5.3,"b":0.3},{"i":7,"a":5.3,"b":0.3},{"i":8,"a":5.3,"b":0.3},{"i":9,"a":5.3,"b":0.3},{"i":10,"a":5.3,"b":0.3},{"i":11,"a":5.3,"b":0.3},{"i":12,"a":5.3,"b":0.3},{"i":34,"a":5.3,"b":0.3},{"i":35,"a":5.3,"b":0.3},{"i":36,"a":5.3,"b":0.3},{"i":37,"a":5.3,"b":0.3},{"i":38,"a":5.3,"b":0.3},{"i":39,"a":5.3,"b":0.3},{"i":41,"a":5.3,"b":0.3},{"i":43,"a":5.3,"b":0.3},{"i":44,"a":5.3,"b":0.3},{"i":45,"a":5.3,"b":0.3},{"i":46,"a":5.3,"b":0.3},{"i":47,"a":5.3,"b":0.3},{"i":48,"a":5.3,"b":0.3},{"i":49,"a":5.3,"b":0.3},{"i":67,"a":5.3,"b":0.3},{"i":68,"a":5.3,"b":0.3},{"i":69,"a":5.3,"b":0.3},{"i":70,"a":5.3,"b":0.3},{"i":71,"a":5.3,"b":0.3},{"i":72,"a":5.3,"b":0.3},{"i":73,"a":5.3,"b":0.3},{"i":74,"a":5.3,"b":0.3},{"i":75,"a":5.3,"b":0.3},{"i":76,"a":5.3,"b":0.3},{"i":77,"a":5.3,"b":0.3},{"i":78,"a":5.3,"b":0.3},{"i":79,"a":5.3,"b":0.3},{"i":80,"a":5.3,"b":0.3},{"i":81,"a":5.3,"b":0.3},{"i":82,"a":5.3,"b":0.3},{"i":83,"a":5.3,"b":0.3},{"i":84,"a":5.3,"b":0.3},{"i":85,"a":5.3,"b":0.3},{"i":86,"a":5.3,"b":0.3}],
"midStrip":[{"i":0,"c":"r","a":50.6,"b":45.8},{"i":1,"c":"r","a":50.6,"b":45.8},{"i":2,"c":"r","a":50.6,"b":45.8},{"i":3,"c":"r","a":50.6,"b":45.8},{"i":4,"c":"r","a":50.6,"b":45.8},{"i":5,"c":"r","a":50.6,"b":45.8},{"i":6,"c":"r","a":50.6,"b":45.8},{"i":7,"c":"r","a":50.6,"b":45.8},{"i":8,"c":"r","a":50.6,"b":45.8},{"i":9,"c":"r","a":50.6,"b":45.8},{"i":10,"c":"r","a":50.6,"b":45.8},{"i":11,"c":"r","a":50.6,"b":45.8},{"i":12,"c":"r","a":50.6,"b":45.8},{"i":13,"c":"r","a":50.6,"b":45.8},{"i":14,"c":"r","a":50.6,"b":45.8},{"i":15,"c":"r","a":50.6,"b":45.8},{"i":16,"c":"r","a":50.6,"b":45.8},{"i":17,"c":"r","a":50.6,"b":45.8},{"i":18,"c":"r","a":50.6,"b":45.8},{"i":19,"c":"r","a":50.6,"b":45.8},{"i":20,"c":"r","a":50.6,"b":45.8},{"i":21,"c":"r","a":50.6,"b":45.8},{"i":22,"c":"r","a":50.6,"b":45.8},{"i":23,"c":"r","a":50.6,"b":45.8},{"i":24,"c":"r","a":50.6,"b":45.8},{"i":25,"c":"r","a":50.6,"b":45.8},{"i":26,"c":"r","a":50.6,"b":45.8},{"i":27,"c":"r","a":50.6,"b":45.8},{"i":28,"c":"r","a":50.6,"b":45.8},{"i":29,"c":"g","a":50.6,"b":45.8},{"i":30,"c":"g","a":50.6,"b":45.8},{"i":31,"c":"g","a":50.6,"b":45.8},{"i":32,"c":"g","a":50.6,"b":45.8},{"i":33,"c":"g","a":50.6,"b":45.8},{"i":34,"c":"g","a":50.6,"b":45.8},{"i":35,"c":"g","a":50.6,"b":45.8},{"i":36,"c":"g","a":50.6,"b":45.8},{"i":37,"c":"r","a":50.6,"b":45.8},{"i":38,"c":"r","a":50.6,"b":45.8},{"i":39,"c":"r","a":50.6,"b":45.8},{"i":40,"c":"r","a":50.6,"b":45.8},{"i":41,"c":"r","a":50.6,"b":45.8},{"i":42,"c":"r","a":50.6,"b":45.8},{"i":43,"c":"r","a":50.6,"b":45.8},{"i":44,"c":"r","a":50.6,"b":45.8},{"i":45,"c":"r","a":50.6,"b":45.8},{"i":46,"c":"r","a":50.6,"b":45.8},{"i":47,"c":"r","a":50.6,"b":45.8},{"i":48,"c":"r","a":50.6,"b":45.8},{"i":49,"c":"r","a":50.6,"b":45.8},{"i":50,"c":"r","a":50.6,"b":45.8},{"i":51,"c":"r","a":50.6,"b":45.8},{"i":52,"c":"r","a":50.6,"b":45.8},{"i":53,"c":"g","a":50.6,"b":45.8},{"i":54,"c":"g","a":50.6,"b":45.8},{"i":55,"c":"g","a":50.6,"b":45.8},{"i":56,"c":"g","a":50.6,"b":45.8},{"i":57,"c":"g","a":50.6,"b":45.8},{"i":58,"c":"g","a":50.6,"b":45.8},{"i":59,"c":"g","a":50.6,"b":45.8},{"i":60,"c":"g","a":50.6,"b":45.8},{"i":61,"c":"g","a":50.6,"b":45.8},{"i":62,"c":"g","a":50.6,"b":45.8},{"i":63,"c":"g","a":50.6,"b":45.8},{"i":64,"c":"g","a":50.6,"b":45.8},{"i":65,"c":"g","a":50.6,"b":45.8},{"i":66,"c":"g","a":50.6,"b":45.8},{"i":67,"c":"g","a":50.6,"b":45.8},{"i":68,"c":"g","a":50.6,"b":45.8},{"i":69,"c":"g","a":50.6,"b":45.8},{"i":70,"c":"g","a":50.6,"b":45.8},{"i":71,"c":"g","a":50.6,"b":45.8},{"i":72,"c":"g","a":50.6,"b":45.8},{"i":73,"c":"g","a":50.6,"b":45.8},{"i":74,"c":"g","a":50.6,"b":45.8},{"i":75,"c":"g","a":50.6,"b":45.8},{"i":76,"c":"g","a":50.6,"b":45.8},{"i":77,"c":"g","a":50.6,"b":45.8},{"i":78,"c":"r","a":50.6,"b":45.8},{"i":79,"c":"r","a":50.6,"b":45.8},{"i":80,"c":"r","a":50.6,"b":45.8},{"i":81,"c":"r","a":50.6,"b":45.8},{"i":82,"c":"r","a":50.6,"b":45.8},{"i":83,"c":"r","a":50.6,"b":45.8},{"i":84,"c":"r","a":50.6,"b":45.8},{"i":85,"c":"r","a":50.6,"b":45.8},{"i":86,"c":"r","a":50.6,"b":45.8}],
"klines":[{"i":0,"v":53.3,"s":"A","c":"m"},{"i":1,"v":56.1,"s":"A","c":"m"},{"i":2,"v":60.6,"s":"A","c":"m"},{"i":3,"v":66.1,"s":"A","c":"m"},{"i":4,"v":72.2,"s":"A","c":"m"},{"i":5,"v":78.3,"s":"A","c":"m"},{"i":6,"v":80,"s":"A","c":"m"},{"i":7,"v":81.1,"s":"A","c":"m"},{"i":8,"v":82.8,"s":"A","c":"m"},{"i":9,"v":83.3,"s":"A","c":"m"},{"i":10,"v":86.1,"s":"A","c":"m"},{"i":11,"v":88.1,"s":"A","c":"m"},
{"i":0,"v":54.2,"s":"B","c":"m"},{"i":1,"v":55.6,"s":"B","c":"m"},{"i":2,"v":56.4,"s":"B","c":"m"},{"i":3,"v":57.8,"s":"B","c":"m"},{"i":4,"v":60.6,"s":"B","c":"m"},{"i":5,"v":64.4,"s":"B","c":"m"},{"i":6,"v":67.5,"s":"B","c":"m"},{"i":7,"v":70.3,"s":"B","c":"m"},{"i":8,"v":73.6,"s":"B","c":"m"},{"i":9,"v":75.8,"s":"B","c":"m"},{"i":10,"v":78.3,"s":"B","c":"m"},{"i":11,"v":80,"s":"B","c":"m"},{"i":12,"v":81.4,"s":"B","c":"m"},
{"i":11,"v":88.9,"s":"C","c":"y"},{"i":12,"v":86.7,"s":"C","c":"y"},{"i":13,"v":77.8,"s":"C","c":"y"},{"i":14,"v":72.2,"s":"C","c":"y"},{"i":15,"v":66.7,"s":"C","c":"y"},{"i":16,"v":57.8,"s":"C","c":"y"},{"i":17,"v":49.4,"s":"C","c":"y"},{"i":18,"v":41.1,"s":"C","c":"y"},{"i":19,"v":34.2,"s":"C","c":"y"},{"i":20,"v":29.2,"s":"C","c":"y"},{"i":21,"v":26.4,"s":"C","c":"y"},{"i":22,"v":25,"s":"C","c":"y"},{"i":23,"v":24.4,"s":"C","c":"y"},{"i":24,"v":24.2,"s":"C","c":"y"},{"i":25,"v":23.1,"s":"C","c":"y"},
{"i":12,"v":81.4,"s":"D","c":"y"},{"i":13,"v":81.4,"s":"D","c":"y"},{"i":14,"v":81.1,"s":"D","c":"y"},{"i":15,"v":78.6,"s":"D","c":"y"},{"i":16,"v":75.6,"s":"D","c":"y"},{"i":17,"v":70.8,"s":"D","c":"y"},{"i":18,"v":65.8,"s":"D","c":"y"},{"i":19,"v":60.6,"s":"D","c":"y"},{"i":20,"v":55,"s":"D","c":"y"},{"i":21,"v":50.6,"s":"D","c":"y"},{"i":22,"v":45.3,"s":"D","c":"y"},{"i":23,"v":41.1,"s":"D","c":"y"},{"i":24,"v":37.5,"s":"D","c":"y"},{"i":25,"v":34.7,"s":"D","c":"y"},{"i":26,"v":31.9,"s":"D","c":"y"},{"i":27,"v":31.1,"s":"D","c":"y"},
{"i":25,"v":23.1,"s":"E","c":"m"},{"i":26,"v":25.6,"s":"E","c":"m"},{"i":27,"v":30,"s":"E","c":"m"},{"i":28,"v":31.4,"s":"E","c":"m"},{"i":29,"v":32.8,"s":"E","c":"m"},{"i":30,"v":33.9,"s":"E","c":"m"},{"i":31,"v":35.3,"s":"E","c":"m"},{"i":32,"v":36.7,"s":"E","c":"m"},{"i":33,"v":39.4,"s":"E","c":"m"},{"i":34,"v":42.5,"s":"E","c":"m"},{"i":35,"v":46.4,"s":"E","c":"m"},{"i":36,"v":50,"s":"E","c":"m"},{"i":37,"v":55,"s":"E","c":"m"},{"i":38,"v":57.5,"s":"E","c":"m"},{"i":39,"v":59.7,"s":"E","c":"m"},{"i":40,"v":61.1,"s":"E","c":"m"},{"i":41,"v":61.7,"s":"E","c":"m"},{"i":42,"v":61.9,"s":"E","c":"m"},{"i":43,"v":61.9,"s":"E","c":"m"},{"i":44,"v":62.8,"s":"E","c":"m"},{"i":45,"v":63.9,"s":"E","c":"m"},{"i":46,"v":65.3,"s":"E","c":"m"},{"i":47,"v":66.7,"s":"E","c":"m"},{"i":48,"v":67.5,"s":"E","c":"m"},
{"i":27,"v":31.1,"s":"F","c":"m"},{"i":28,"v":34.7,"s":"F","c":"m"},{"i":29,"v":38.9,"s":"F","c":"m"},{"i":30,"v":40.8,"s":"F","c":"m"},{"i":31,"v":41.7,"s":"F","c":"m"},{"i":32,"v":42.5,"s":"F","c":"m"},{"i":33,"v":47.8,"s":"F","c":"m"},{"i":34,"v":55,"s":"F","c":"m"},{"i":35,"v":61.1,"s":"F","c":"m"},{"i":36,"v":65.3,"s":"F","c":"m"},{"i":37,"v":69.4,"s":"F","c":"m"},{"i":38,"v":71.9,"s":"F","c":"m"},
{"i":38,"v":71.9,"s":"G","c":"y"},{"i":39,"v":68.6,"s":"G","c":"y"},{"i":40,"v":65.3,"s":"G","c":"y"},{"i":41,"v":64.4,"s":"G","c":"y"},{"i":42,"v":62.5,"s":"G","c":"y"},{"i":43,"v":62.2,"s":"G","c":"y"},
{"i":43,"v":62.2,"s":"H","c":"m"},{"i":44,"v":64.4,"s":"H","c":"m"},{"i":45,"v":69.4,"s":"H","c":"m"},{"i":46,"v":71.7,"s":"H","c":"m"},{"i":47,"v":73.6,"s":"H","c":"m"},
{"i":47,"v":74.2,"s":"I","c":"y"},{"i":48,"v":70,"s":"I","c":"y"},{"i":49,"v":64.4,"s":"I","c":"y"},{"i":50,"v":57.5,"s":"I","c":"y"},{"i":51,"v":47.2,"s":"I","c":"y"},{"i":52,"v":38.3,"s":"I","c":"y"},{"i":53,"v":31.4,"s":"I","c":"y"},{"i":54,"v":25.8,"s":"I","c":"y"},{"i":55,"v":20.3,"s":"I","c":"y"},{"i":56,"v":17.5,"s":"I","c":"y"},{"i":57,"v":15.8,"s":"I","c":"y"},{"i":58,"v":13.9,"s":"I","c":"y"},
{"i":48,"v":67.5,"s":"J","c":"y"},{"i":49,"v":67.5,"s":"J","c":"y"},{"i":50,"v":65.8,"s":"J","c":"y"},{"i":51,"v":61.9,"s":"J","c":"y"},{"i":52,"v":56.1,"s":"J","c":"y"},{"i":53,"v":50.8,"s":"J","c":"y"},{"i":54,"v":45.3,"s":"J","c":"y"},{"i":55,"v":40.8,"s":"J","c":"y"},{"i":56,"v":36.1,"s":"J","c":"y"},{"i":57,"v":32.5,"s":"J","c":"y"},{"i":58,"v":28.6,"s":"J","c":"y"},{"i":59,"v":26.4,"s":"J","c":"y"},{"i":60,"v":25,"s":"J","c":"y"},{"i":61,"v":23.1,"s":"J","c":"y"},{"i":62,"v":22.8,"s":"J","c":"y"},{"i":63,"v":21.7,"s":"J","c":"y"},{"i":64,"v":21.4,"s":"J","c":"y"},
{"i":58,"v":13.9,"s":"K","c":"m"},{"i":59,"v":14.4,"s":"K","c":"m"},{"i":60,"v":16.4,"s":"K","c":"m"},{"i":61,"v":17.5,"s":"K","c":"m"},{"i":62,"v":19.4,"s":"K","c":"m"},{"i":63,"v":20.3,"s":"K","c":"m"},{"i":64,"v":20.8,"s":"K","c":"m"},{"i":65,"v":21.1,"s":"K","c":"m"},{"i":66,"v":23.1,"s":"K","c":"m"},{"i":67,"v":26.9,"s":"K","c":"m"},{"i":68,"v":30.6,"s":"K","c":"m"},{"i":69,"v":36.1,"s":"K","c":"m"},{"i":70,"v":42.5,"s":"K","c":"m"},{"i":71,"v":47.8,"s":"K","c":"m"},{"i":72,"v":54.7,"s":"K","c":"m"},{"i":73,"v":60.3,"s":"K","c":"m"},{"i":74,"v":65.8,"s":"K","c":"m"},{"i":75,"v":70,"s":"K","c":"m"},{"i":76,"v":73.6,"s":"K","c":"m"},{"i":77,"v":76.4,"s":"K","c":"m"},{"i":78,"v":79.2,"s":"K","c":"m"},{"i":79,"v":81.4,"s":"K","c":"m"},{"i":80,"v":82.8,"s":"K","c":"m"},{"i":81,"v":84.2,"s":"K","c":"m"},{"i":82,"v":84.7,"s":"K","c":"m"},{"i":83,"v":85.6,"s":"K","c":"m"},{"i":84,"v":85.8,"s":"K","c":"m"},{"i":85,"v":85.8,"s":"K","c":"m"},{"i":86,"v":85.8,"s":"K","c":"m"},
{"i":64,"v":19.2,"s":"L","c":"m"},{"i":65,"v":24.4,"s":"L","c":"m"},{"i":66,"v":29.2,"s":"L","c":"m"},{"i":67,"v":38.9,"s":"L","c":"m"},{"i":68,"v":49.2,"s":"L","c":"m"},{"i":69,"v":59.2,"s":"L","c":"m"},{"i":70,"v":67.5,"s":"L","c":"m"},{"i":71,"v":74.2,"s":"L","c":"m"},{"i":72,"v":78.9,"s":"L","c":"m"},{"i":73,"v":83.3,"s":"L","c":"m"},{"i":74,"v":85.8,"s":"L","c":"m"},{"i":75,"v":86.7,"s":"L","c":"m"},{"i":76,"v":88.1,"s":"L","c":"m"},{"i":77,"v":89.2,"s":"L","c":"m"},{"i":78,"v":90.8,"s":"L","c":"m"},{"i":79,"v":91.1,"s":"L","c":"m"},
{"i":79,"v":91.7,"s":"M","c":"y"},{"i":80,"v":89.2,"s":"M","c":"y"},{"i":81,"v":88.1,"s":"M","c":"y"},{"i":82,"v":88.1,"s":"M","c":"y"},{"i":83,"v":86.1,"s":"M","c":"y"},{"i":84,"v":86.9,"s":"M","c":"y"},{"i":85,"v":86.9,"s":"M","c":"y"},{"i":86,"v":86.7,"s":"M","c":"y"}],
"thick":[{"i":0,"v":71.9,"s":"R1","c":"r"},{"i":1,"v":72.8,"s":"R1","c":"r"},{"i":2,"v":74.2,"s":"R1","c":"r"},{"i":3,"v":75.8,"s":"R1","c":"r"},{"i":4,"v":77.8,"s":"R1","c":"r"},{"i":5,"v":79.4,"s":"R1","c":"r"},{"i":6,"v":81.1,"s":"R1","c":"r"},{"i":7,"v":82.5,"s":"R1","c":"r"},{"i":8,"v":83.6,"s":"R1","c":"r"},{"i":9,"v":84.7,"s":"R1","c":"r"},{"i":10,"v":85.6,"s":"R1","c":"r"},{"i":11,"v":86.4,"s":"R1","c":"r"},{"i":12,"v":86.7,"s":"R1","c":"r"},
{"i":12,"v":86.7,"s":"G1","c":"g"},{"i":13,"v":85.8,"s":"G1","c":"g"},{"i":14,"v":83.9,"s":"G1","c":"g"},{"i":15,"v":81.9,"s":"G1","c":"g"},{"i":16,"v":80,"s":"G1","c":"g"},{"i":17,"v":77.2,"s":"G1","c":"g"},{"i":18,"v":74.4,"s":"G1","c":"g"},{"i":19,"v":71.7,"s":"G1","c":"g"},{"i":20,"v":68.9,"s":"G1","c":"g"},{"i":21,"v":66.7,"s":"G1","c":"g"},{"i":22,"v":64.4,"s":"G1","c":"g"},{"i":23,"v":62.5,"s":"G1","c":"g"},{"i":24,"v":60.3,"s":"G1","c":"g"},{"i":25,"v":58.3,"s":"G1","c":"g"},{"i":26,"v":56.9,"s":"G1","c":"g"},{"i":27,"v":55.8,"s":"G1","c":"g"},{"i":28,"v":55,"s":"G1","c":"g"},{"i":29,"v":54.2,"s":"G1","c":"g"},{"i":30,"v":52.8,"s":"G1","c":"g"},{"i":31,"v":51.9,"s":"G1","c":"g"},{"i":32,"v":51.4,"s":"G1","c":"g"},{"i":33,"v":50.6,"s":"G1","c":"g"},
{"i":33,"v":50.6,"s":"R2","c":"r"},{"i":34,"v":50.8,"s":"R2","c":"r"},{"i":35,"v":51.9,"s":"R2","c":"r"},{"i":36,"v":53.1,"s":"R2","c":"r"},{"i":37,"v":54.4,"s":"R2","c":"r"},{"i":38,"v":55.3,"s":"R2","c":"r"},{"i":38.9,"v":55.3,"s":"R2","c":"r"},
{"i":38.9,"v":55.3,"s":"G2","c":"g"},{"i":42,"v":55.3,"s":"G2","c":"g"},
{"i":40.05,"v":55.3,"s":"R3","c":"r"},{"i":41.04,"v":55.3,"s":"R3","c":"r"},
{"i":42,"v":55.3,"s":"R4","c":"r"},{"i":43,"v":55.6,"s":"R4","c":"r"},{"i":44,"v":56.1,"s":"R4","c":"r"},{"i":45,"v":56.9,"s":"R4","c":"r"},{"i":46,"v":58.9,"s":"R4","c":"r"},{"i":47,"v":61.1,"s":"R4","c":"r"},{"i":48,"v":61.9,"s":"R4","c":"r"},{"i":49,"v":62.2,"s":"R4","c":"r"},
{"i":49,"v":62.2,"s":"G3","c":"g"},{"i":50,"v":61.1,"s":"G3","c":"g"},{"i":51,"v":58.9,"s":"G3","c":"g"},{"i":52,"v":56.4,"s":"G3","c":"g"},{"i":53,"v":53.6,"s":"G3","c":"g"},{"i":54,"v":50.6,"s":"G3","c":"g"},{"i":55,"v":47.2,"s":"G3","c":"g"},{"i":56,"v":43.6,"s":"G3","c":"g"},{"i":57,"v":39.4,"s":"G3","c":"g"},{"i":58,"v":36.7,"s":"G3","c":"g"},{"i":59,"v":34.2,"s":"G3","c":"g"},{"i":60,"v":32.5,"s":"G3","c":"g"},{"i":61,"v":31.1,"s":"G3","c":"g"},{"i":62,"v":29.7,"s":"G3","c":"g"},{"i":63,"v":28.6,"s":"G3","c":"g"},{"i":64,"v":26.9,"s":"G3","c":"g"},{"i":65,"v":25.8,"s":"G3","c":"g"},{"i":66,"v":25.6,"s":"G3","c":"g"},
{"i":66,"v":25.6,"s":"R5","c":"r"},{"i":67,"v":25.6,"s":"R5","c":"r"},{"i":68,"v":26.4,"s":"R5","c":"r"},{"i":69,"v":28.3,"s":"R5","c":"r"},{"i":70,"v":30,"s":"R5","c":"r"},{"i":71,"v":32.5,"s":"R5","c":"r"},{"i":72,"v":34.7,"s":"R5","c":"r"},{"i":73,"v":37.5,"s":"R5","c":"r"},{"i":74,"v":40.8,"s":"R5","c":"r"},{"i":75,"v":43.6,"s":"R5","c":"r"},{"i":76,"v":47.2,"s":"R5","c":"r"},{"i":77,"v":50.8,"s":"R5","c":"r"},{"i":78,"v":55,"s":"R5","c":"r"},{"i":79,"v":58.3,"s":"R5","c":"r"},{"i":80,"v":61.1,"s":"R5","c":"r"},{"i":81,"v":63.9,"s":"R5","c":"r"},{"i":82,"v":66.7,"s":"R5","c":"r"},{"i":83,"v":69.4,"s":"R5","c":"r"},{"i":84,"v":71.7,"s":"R5","c":"r"},{"i":85,"v":73.6,"s":"R5","c":"r"},{"i":86,"v":75.6,"s":"R5","c":"r"}],
"stoch":[{"i":0,"v":51.4,"s":"b1","c":"b"},{"i":1,"v":31.4,"s":"b1","c":"b"},{"i":2,"v":16.1,"s":"b1","c":"b"},{"i":3,"v":9.2,"s":"b1","c":"b"},
{"i":3,"v":9.2,"s":"o1","c":"o"},{"i":4,"v":14.7,"s":"o1","c":"o"},{"i":5,"v":26.4,"s":"o1","c":"o"},{"i":6,"v":63.1,"s":"o1","c":"o"},
{"i":6,"v":63.1,"s":"b2","c":"b"},{"i":7,"v":49.4,"s":"b2","c":"b"},
{"i":7,"v":49.4,"s":"o2","c":"o"},{"i":8,"v":74.4,"s":"o2","c":"o"},{"i":9,"v":87.5,"s":"o2","c":"o"},{"i":10,"v":93.1,"s":"o2","c":"o"},{"i":11,"v":96.7,"s":"o2","c":"o"},
{"i":11,"v":96.7,"s":"b3","c":"b"},{"i":12,"v":94.4,"s":"b3","c":"b"},{"i":13,"v":77.8,"s":"b3","c":"b"},{"i":14,"v":39.4,"s":"b3","c":"b"},{"i":15,"v":20,"s":"b3","c":"b"},{"i":16,"v":9.7,"s":"b3","c":"b"},{"i":17,"v":5,"s":"b3","c":"b"},{"i":18,"v":2.8,"s":"b3","c":"b"},{"i":19,"v":1.9,"s":"b3","c":"b"},{"i":20,"v":0.8,"s":"b3","c":"b"},
{"i":20,"v":0.8,"s":"o3","c":"o"},{"i":21,"v":4.7,"s":"o3","c":"o"},{"i":22,"v":11.7,"s":"o3","c":"o"},{"i":23,"v":40.8,"s":"o3","c":"o"},{"i":24,"v":71.4,"s":"o3","c":"o"},{"i":25,"v":79.2,"s":"o3","c":"o"},{"i":26,"v":89.7,"s":"o3","c":"o"},{"i":27,"v":95,"s":"o3","c":"o"},{"i":28,"v":97.2,"s":"o3","c":"o"},{"i":29,"v":98.1,"s":"o3","c":"o"},
{"i":29,"v":98.1,"s":"b4","c":"b"},{"i":30,"v":98.3,"s":"b4","c":"b"},{"i":31,"v":90.3,"s":"b4","c":"b"},
{"i":31,"v":90.3,"s":"o4","c":"o"},{"i":32,"v":95.3,"s":"o4","c":"o"},{"i":33,"v":97.8,"s":"o4","c":"o"},{"i":34,"v":98.6,"s":"o4","c":"o"},{"i":35,"v":99.2,"s":"o4","c":"o"},{"i":36,"v":99.4,"s":"o4","c":"o"},{"i":37,"v":99.4,"s":"o4","c":"o"},
{"i":37,"v":99.4,"s":"b5","c":"b"},{"i":38,"v":86.1,"s":"b5","c":"b"},{"i":39,"v":57.5,"s":"b5","c":"b"},{"i":40,"v":28.3,"s":"b5","c":"b"},
{"i":40,"v":28.3,"s":"o5","c":"o"},{"i":41,"v":64.7,"s":"o5","c":"o"},{"i":42,"v":81.9,"s":"o5","c":"o"},{"i":43,"v":90.3,"s":"o5","c":"o"},{"i":44,"v":95.3,"s":"o5","c":"o"},{"i":45,"v":97.8,"s":"o5","c":"o"},
{"i":45,"v":97.8,"s":"b6","c":"b"},{"i":46,"v":92.2,"s":"b6","c":"b"},{"i":47,"v":81.4,"s":"b6","c":"b"},{"i":48,"v":40.8,"s":"b6","c":"b"},{"i":49,"v":21.4,"s":"b6","c":"b"},{"i":50,"v":10.3,"s":"b6","c":"b"},{"i":51,"v":5.6,"s":"b6","c":"b"},{"i":52,"v":3.3,"s":"b6","c":"b"},{"i":53,"v":1.9,"s":"b6","c":"b"},{"i":54,"v":1.1,"s":"b6","c":"b"},{"i":55,"v":0.8,"s":"b6","c":"b"},
{"i":55,"v":0.8,"s":"o6","c":"o"},{"i":56,"v":20.8,"s":"o6","c":"o"},{"i":57,"v":60.3,"s":"o6","c":"o"},{"i":58,"v":79.7,"s":"o6","c":"o"},{"i":59,"v":90.3,"s":"o6","c":"o"},{"i":60,"v":95,"s":"o6","c":"o"},
{"i":60,"v":95,"s":"b7","c":"b"},{"i":61,"v":94.2,"s":"b7","c":"b"},{"i":62,"v":89.7,"s":"b7","c":"b"},{"i":63,"v":78.3,"s":"b7","c":"b"},{"i":64,"v":39.7,"s":"b7","c":"b"},{"i":65,"v":29.2,"s":"b7","c":"b"},
{"i":65,"v":29.2,"s":"o7","c":"o"},{"i":66,"v":60.3,"s":"o7","c":"o"},{"i":67,"v":79.2,"s":"o7","c":"o"},{"i":68,"v":90.3,"s":"o7","c":"o"},{"i":69,"v":95.3,"s":"o7","c":"o"},{"i":70,"v":97.8,"s":"o7","c":"o"},{"i":71,"v":99.2,"s":"o7","c":"o"},{"i":72,"v":99.4,"s":"o7","c":"o"},{"i":73,"v":99.4,"s":"o7","c":"o"},{"i":74,"v":99.4,"s":"o7","c":"o"},
{"i":74,"v":99.4,"s":"b8","c":"b"},{"i":75,"v":98.6,"s":"b8","c":"b"},
{"i":75,"v":98.6,"s":"o8","c":"o"},{"i":76,"v":99.2,"s":"o8","c":"o"},{"i":77,"v":99.4,"s":"o8","c":"o"},{"i":78,"v":99.4,"s":"o8","c":"o"},
{"i":78,"v":99.4,"s":"b9","c":"b"},{"i":79,"v":97.2,"s":"b9","c":"b"},{"i":80,"v":85.6,"s":"b9","c":"b"},{"i":81,"v":77.8,"s":"b9","c":"b"},{"i":82,"v":78.1,"s":"b9","c":"b"},{"i":83,"v":58.9,"s":"b9","c":"b"},
{"i":83,"v":58.9,"s":"o9","c":"o"},{"i":84,"v":65.8,"s":"o9","c":"o"},{"i":85,"v":83.3,"s":"o9","c":"o"},{"i":86,"v":91.7,"s":"o9","c":"o"}]
},
"vconcat":[
{"width":1516,"height":564,
"encoding":{"x":{"field":"i","type":"quantitative","scale":{"domain":[-0.547,88.63],"nice":false,"zero":false}},"y":{"field":"p","type":"quantitative","scale":{"domain":[3545.1,4020.2],"nice":false,"zero":false}}},
"layer":[
{"data":{"values":[{"i":-0.547,"i2":88.63,"a":4009.2,"b":3545.1}]},"mark":{"type":"rect","fill":{"x1":0,"y1":0,"x2":1,"y2":0,"gradient":"linear","stops":[{"offset":0,"color":"#00000e"},{"offset":1,"color":"#00002a"}]}},"encoding":{"x2":{"field":"i2"},"y":{"field":"a","type":"quantitative","scale":{"domain":[3545.1,4020.2],"nice":false,"zero":false}},"y2":{"field":"b"}}},
{"data":{"name":"grid1"},"mark":{"type":"rule","color":"#a00000","strokeWidth":1,"strokeDash":[1,1]},"encoding":{"x2":{"field":"i2"}}},
{"data":{"name":"dash"},"mark":{"type":"line","strokeWidth":1.5,"strokeDash":[14,3]},"encoding":{"detail":{"field":"s"},"color":{"field":"c","scale":{"domain":["r","g","y","m","c","w","d","b","o","l"],"range":["#ff0000","#00ff00","#ffff00","#ff00ff","#00ffff","#c8c8c8","#808080","#8080ff","#ff8000","#60f860"]}}}},
{"data":{"name":"dotted"},"mark":{"type":"line","strokeWidth":1.5,"strokeDash":[1.5,15.5]},"encoding":{"detail":{"field":"s"},"color":{"field":"c","scale":{"domain":["r","g","y","m","c","w","d","b","o","l"],"range":["#ff0000","#00ff00","#ffff00","#ff00ff","#00ffff","#c8c8c8","#808080","#8080ff","#ff8000","#60f860"]}}}},
{"data":{"name":"candles"},"mark":{"type":"rule","strokeWidth":1.5},"encoding":{"y":{"field":"h","type":"quantitative","scale":{"domain":[3545.1,4020.2],"nice":false,"zero":false}},"y2":{"field":"t"},"color":{"field":"c","scale":{"domain":["r","g","y","m","c","w","d","b","o","l"],"range":["#ff0000","#00ff00","#ffff00","#ff00ff","#00ffff","#c8c8c8","#808080","#8080ff","#ff8000","#60f860"]}}}},
{"data":{"name":"candles"},"mark":{"type":"rule","strokeWidth":1.5},"encoding":{"y":{"field":"b","type":"quantitative","scale":{"domain":[3545.1,4020.2],"nice":false,"zero":false}},"y2":{"field":"l"},"color":{"field":"c","scale":{"domain":["r","g","y","m","c","w","d","b","o","l"],"range":["#ff0000","#00ff00","#ffff00","#ff00ff","#00ffff","#c8c8c8","#808080","#8080ff","#ff8000","#60f860"]}}}},
{"data":{"name":"candles"},"transform":[{"filter":"datum.f==1"}],"mark":{"type":"bar","size":15,"orient":"vertical"},"encoding":{"y":{"field":"t","type":"quantitative","scale":{"domain":[3545.1,4020.2],"nice":false,"zero":false}},"y2":{"field":"b"},"color":{"field":"c","scale":{"domain":["r","g","y","m","c","w","d","b","o","l"],"range":["#ff0000","#00ff00","#ffff00","#ff00ff","#00ffff","#c8c8c8","#808080","#8080ff","#ff8000","#60f860"]}}}},
{"data":{"name":"candles"},"transform":[{"filter":"datum.f==0"}],"mark":{"type":"bar","size":13.5,"orient":"vertical","filled":false,"strokeWidth":1.5},"encoding":{"y":{"field":"t","type":"quantitative","scale":{"domain":[3545.1,4020.2],"nice":false,"zero":false}},"y2":{"field":"b"},"color":{"field":"c","scale":{"domain":["r","g","y","m","c","w","d","b","o","l"],"range":["#ff0000","#00ff00","#ffff00","#ff00ff","#00ffff","#c8c8c8","#808080","#8080ff","#ff8000","#60f860"]}}}},
{"data":{"name":"thin"},"mark":{"type":"line","strokeWidth":2},"encoding":{"detail":{"field":"s"},"color":{"field":"c","scale":{"domain":["r","g","y","m","c","w","d","b","o","l"],"range":["#ff0000","#00ff00","#ffff00","#ff00ff","#00ffff","#c8c8c8","#808080","#8080ff","#ff8000","#60f860"]}}}},
{"data":{"name":"trend"},"mark":{"type":"line","strokeWidth":4},"encoding":{"detail":{"field":"s"},"color":{"field":"c","scale":{"domain":["r","g","y","m","c","w","d","b","o","l"],"range":["#ff0000","#00ff00","#ffff00","#ff00ff","#00ffff","#c8c8c8","#808080","#8080ff","#ff8000","#60f860"]}}}},
{"data":{"name":"dots"},"mark":{"type":"square","size":9,"opacity":1},"encoding":{"color":{"field":"c","scale":{"domain":["r","g","y","m","c","w","d","b","o","l"],"range":["#ff0000","#00ff00","#ffff00","#ff00ff","#00ffff","#c8c8c8","#808080","#8080ff","#ff8000","#60f860"]}}}},
{"data":{"name":"notes"},"mark":{"type":"text","align":"left","baseline":"middle","font":"Noto Sans CJK SC","fontSize":16},"encoding":{"text":{"field":"t"},"color":{"field":"c","scale":{"domain":["r","g","y","m","c","w","d","b","o","l"],"range":["#ff0000","#00ff00","#ffff00","#ff00ff","#00ffff","#c8c8c8","#808080","#8080ff","#ff8000","#60f860"]}}}},
{"data":{"name":"marks"},"mark":{"type":"text","align":"left","baseline":"middle","font":"Liberation Sans","fontSize":12,"fill":"#e0e0e0"},"encoding":{"text":{"field":"t"}}},
{"data":{"values":[{"i":-0.547,"i2":88.63,"a":4020.2,"b":4009.2}]},"mark":{"type":"rect","fill":"#000000"},"encoding":{"x2":{"field":"i2"},"y":{"field":"a","type":"quantitative","scale":{"domain":[3545.1,4020.2],"nice":false,"zero":false}},"y2":{"field":"b"}}},
{"data":{"name":"head1"},"mark":{"type":"text","align":"left","baseline":"middle","font":"Liberation Sans, Noto Sans CJK SC","fontSize":12},"encoding":{"text":{"field":"t"},"color":{"field":"c","scale":{"domain":["r","g","y","m","c","w","d","b","o","l"],"range":["#ff0000","#00ff00","#ffff00","#ff00ff","#00ffff","#c8c8c8","#808080","#8080ff","#ff8000","#60f860"]}}}},
{"data":{"values":[{"i":69.9,"i2":77.5,"a":4020.2,"b":3988.2}]},"mark":{"type":"rect","fill":{"x1":0,"y1":0,"x2":0,"y2":1,"gradient":"linear","stops":[{"offset":0,"color":"#f06010"},{"offset":0.5,"color":"#ff3000"},{"offset":1,"color":"#f84010"}]}},"encoding":{"x2":{"field":"i2"},"y":{"field":"a","type":"quantitative","scale":{"domain":[3545.1,4020.2],"nice":false,"zero":false}},"y2":{"field":"b"}}},
{"data":{"values":[{"i":70.34,"p":4009.7,"t":"股道边"}]},"mark":{"type":"text","align":"left","baseline":"middle","font":"Noto Sans CJK SC","fontWeight":"bold","fontSize":12.5,"fill":"#ffff00"},"encoding":{"text":{"field":"t"}}},
{"data":{"values":[{"i":72.74,"p":4009.7,"t":"指标公式量化资源"}]},"mark":{"type":"text","align":"left","baseline":"middle","font":"Noto Sans CJK SC","fontSize":9.4,"fill":"#ffa020"},"encoding":{"text":{"field":"t"}}},
{"data":{"values":[{"i":70.34,"p":3997.8,"t":"www.de6688.com"}]},"mark":{"type":"text","align":"left","baseline":"middle","font":"Liberation Sans","fontWeight":"bold","fontSize":14,"fill":"#ffffff"},"encoding":{"text":{"field":"t"}}},
{"data":{"values":[{"i":-0.49,"p":4009.2,"b":3545.1}]},"mark":{"type":"rule","color":"#c00000","strokeWidth":1.5},"encoding":{"y2":{"field":"b"}}},
{"data":{"values":[{"i":-0.547,"i2":88.63,"p":3545.6}]},"mark":{"type":"rule","color":"#a00000","strokeWidth":1},"encoding":{"x2":{"field":"i2"}}}
]},
{"width":1516,"height":380,
"encoding":{"x":{"field":"i","type":"quantitative","scale":{"domain":[-0.547,88.63],"nice":false,"zero":false}},"y":{"field":"v","type":"quantitative","scale":{"domain":[-1.11,104.44],"nice":false,"zero":false}}},
"layer":[
{"data":{"name":"grid2"},"mark":{"type":"rule","color":"#a00000","strokeWidth":1,"strokeDash":[1,1]},"encoding":{"x2":{"field":"i2"}}},
{"data":{"values":[{"i":0,"i2":86,"v":97},{"i":0,"i2":86,"v":3}]},"mark":{"type":"rule","color":"#808080","strokeWidth":2},"encoding":{"x2":{"field":"i2"}}},
{"data":{"values":[{"i":14.0,"v":86.5,"t":"支"}]},"mark":{"type":"text","align":"left","baseline":"middle","font":"Noto Sans CJK SC","fontSize":17,"fill":"#00ff00"},"encoding":{"text":{"field":"t"}}},
{"data":{"name":"ybars"},"mark":{"type":"bar","size":15,"orient":"vertical","color":"#ffff00"},"encoding":{"y":{"field":"a","type":"quantitative","scale":{"domain":[-1.11,104.44],"nice":false,"zero":false}},"y2":{"field":"b"}}},
{"data":{"name":"midStrip"},"mark":{"type":"bar","size":13,"orient":"vertical"},"encoding":{"y":{"field":"a","type":"quantitative","scale":{"domain":[-1.11,104.44],"nice":false,"zero":false}},"y2":{"field":"b"},"color":{"field":"c","scale":{"domain":["r","g","y","m","c","w","d","b","o","l"],"range":["#ff0000","#00ff00","#ffff00","#ff00ff","#00ffff","#c8c8c8","#808080","#8080ff","#ff8000","#60f860"]}}}},
{"data":{"name":"topStrip"},"mark":{"type":"bar","size":12,"orient":"vertical","color":"#00ff00"},"encoding":{"y":{"field":"a","type":"quantitative","scale":{"domain":[-1.11,104.44],"nice":false,"zero":false}},"y2":{"field":"b"}}},
{"data":{"name":"botStrip"},"mark":{"type":"bar","size":12,"orient":"vertical","color":"#ff0000"},"encoding":{"y":{"field":"a","type":"quantitative","scale":{"domain":[-1.11,104.44],"nice":false,"zero":false}},"y2":{"field":"b"}}},
{"data":{"name":"kbars"},"mark":{"type":"bar","size":15,"orient":"vertical","color":"#ff00ff"},"encoding":{"y":{"field":"a","type":"quantitative","scale":{"domain":[-1.11,104.44],"nice":false,"zero":false}},"y2":{"field":"b"}}},
{"data":{"name":"klines"},"mark":{"type":"line","strokeWidth":3.5},"encoding":{"detail":{"field":"s"},"color":{"field":"c","scale":{"domain":["r","g","y","m","c","w","d","b","o","l"],"range":["#ff0000","#00ff00","#ffff00","#ff00ff","#00ffff","#c8c8c8","#808080","#8080ff","#ff8000","#60f860"]}}}},
{"data":{"name":"thick"},"transform":[{"filter":"datum.c=='g'"}],"mark":{"type":"line","strokeWidth":7.5,"strokeCap":"round","color":"#00ff00"},"encoding":{"detail":{"field":"s"}}},
{"data":{"name":"thick"},"transform":[{"filter":"datum.c=='r'"}],"mark":{"type":"line","strokeWidth":7.5,"strokeCap":"round","color":"#ff0000"},"encoding":{"detail":{"field":"s"}}},
{"data":{"name":"stoch"},"mark":{"type":"line","strokeWidth":5,"strokeCap":"round"},"encoding":{"detail":{"field":"s"},"color":{"field":"c","scale":{"domain":["r","g","y","m","c","w","d","b","o","l"],"range":["#ff0000","#00ff00","#ffff00","#ff00ff","#00ffff","#c8c8c8","#808080","#8080ff","#ff8000","#60f860"]}}}},
{"data":{"name":"head2"},"mark":{"type":"text","align":"left","baseline":"middle","font":"Liberation Sans, Noto Sans CJK SC","fontSize":12.5},"encoding":{"text":{"field":"t"},"color":{"field":"c","scale":{"domain":["r","g","y","m","c","w","d","b","o","l"],"range":["#ff0000","#00ff00","#ffff00","#ff00ff","#00ffff","#c8c8c8","#808080","#8080ff","#ff8000","#60f860"]}}}},
{"data":{"values":[{"i":54,"i2":59.2,"a":-0.3,"b":-1.11}]},"mark":{"type":"rect","fill":"#0a50d8"},"encoding":{"x2":{"field":"i2"},"y":{"field":"a","type":"quantitative","scale":{"domain":[-1.11,104.44],"nice":false,"zero":false}},"y2":{"field":"b"}}},
{"data":{"values":[{"i":-0.547,"i2":88.63,"v":-0.3}]},"mark":{"type":"rule","color":"#c00000","strokeWidth":1},"encoding":{"x2":{"field":"i2"}}},
{"data":{"values":[{"i":-0.49,"v":104.44,"b":-0.3}]},"mark":{"type":"rule","color":"#c00000","strokeWidth":1.5},"encoding":{"y2":{"field":"b"}}}
]}
]}
